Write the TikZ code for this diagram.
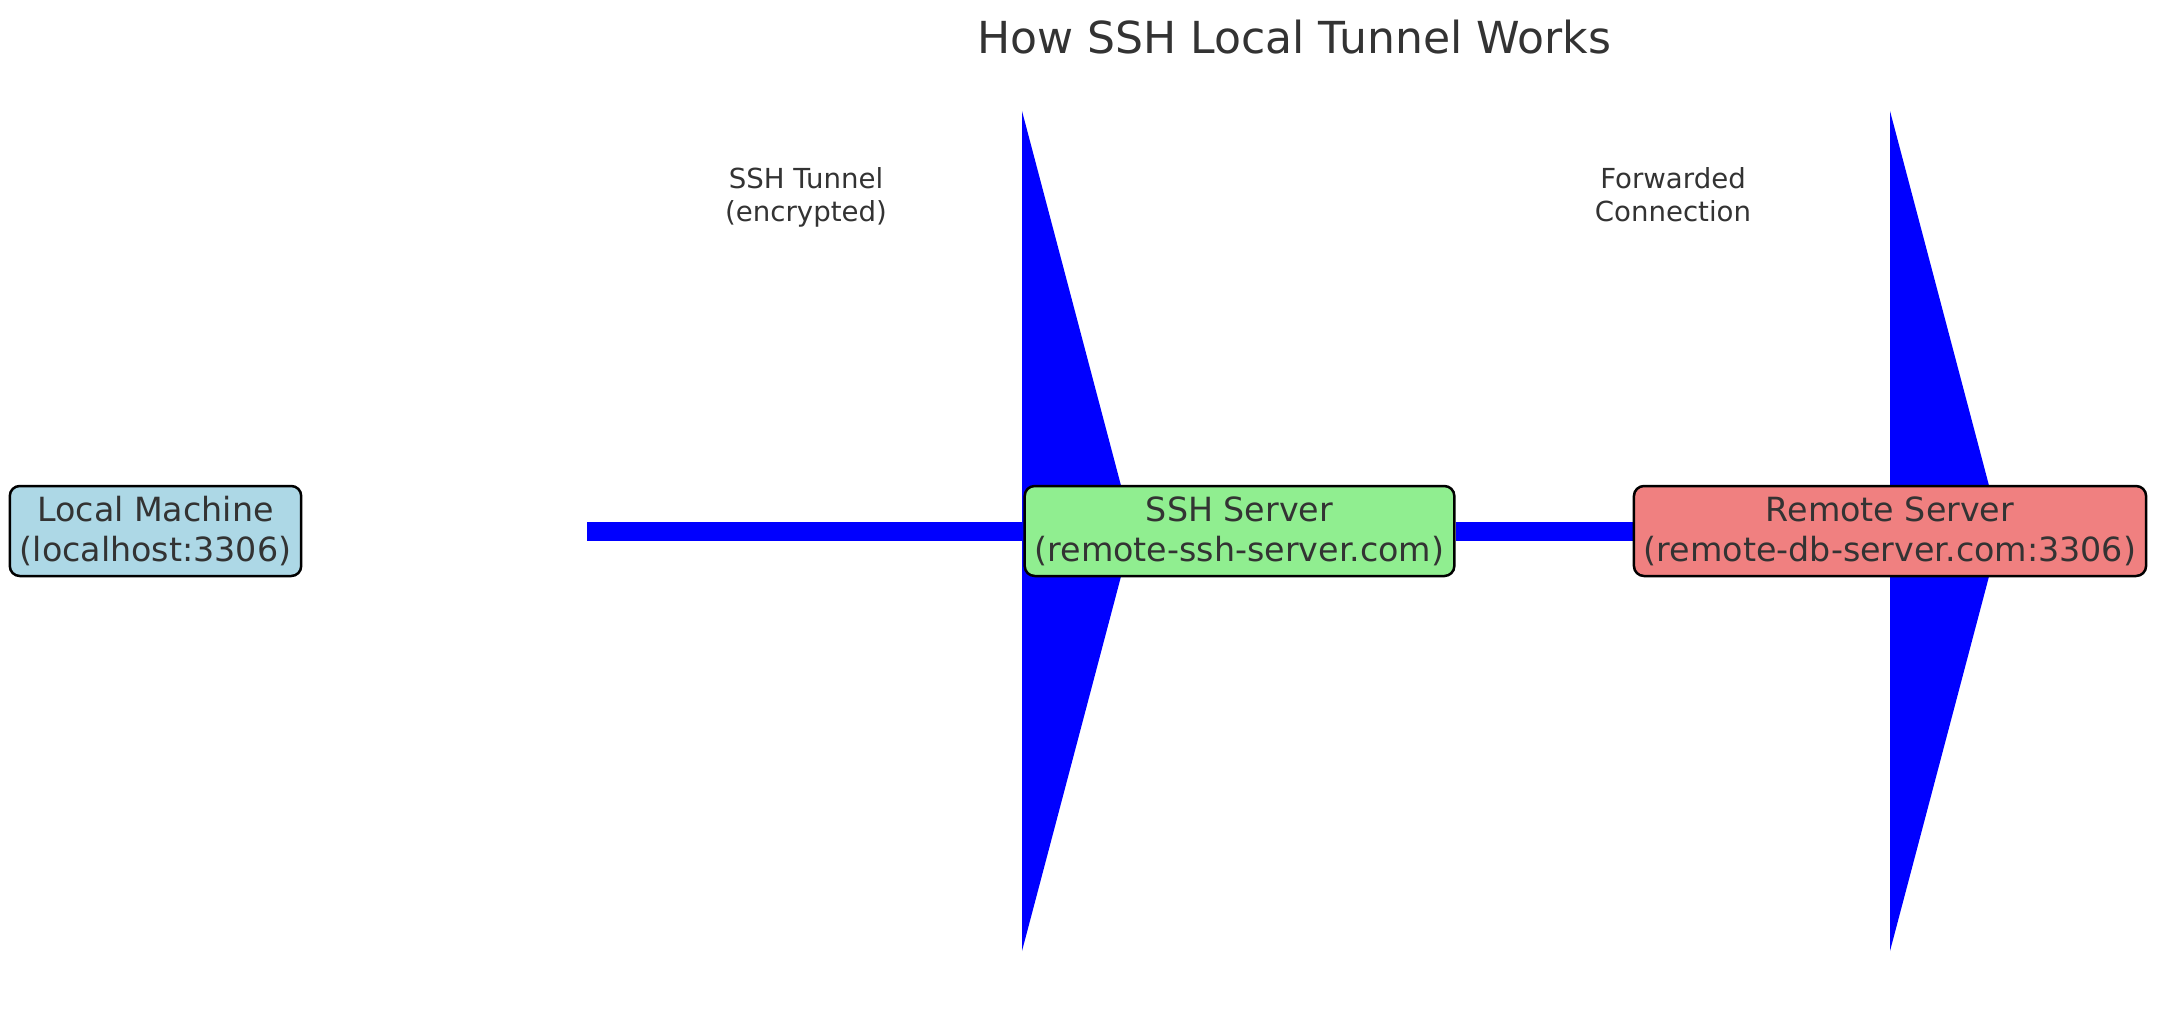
\documentclass[tikz,border=0pt]{standalone}
\usepackage{fontspec}
\setmainfont{DejaVu Sans}
\usepackage{tikz}
\usetikzlibrary{arrows.meta,positioning,backgrounds}
\definecolor{tunnelBlue}{HTML}{0000FF}
\definecolor{textGray}{HTML}{333333}
\definecolor{localFill}{HTML}{ADD8E6}
\definecolor{sshFill}{HTML}{90EE90}
\definecolor{remoteFill}{HTML}{F08080}
\newcommand\titlefont{\fontsize{44.1}{52.9}\selectfont}
\newcommand\boxfont{\fontsize{33.3}{40}\selectfont}
\newcommand\labelfont{\fontsize{27.6}{33.1}\selectfont}
\tikzset{
  hostbox/.style={rectangle, rounded corners=10pt, draw=black, line width=2.5pt, text=textGray, align=center, inner xsep=10pt, inner ysep=10pt, minimum height=90pt, font=\boxfont},
  pipe/.style={draw=tunnelBlue, line width=19pt, -{Triangle[length=111pt, width=840pt, line width=0pt, fill=tunnelBlue]}},
  pipelabel/.style={text=textGray, align=center, inner sep=0pt, anchor=north, font=\labelfont}
}
\begin{document}
\begin{tikzpicture}[x=1pt, y=-1pt]
  \useasboundingbox (0,0) rectangle (2157,1014);
  \node[anchor=base, text=textGray, font=\titlefont] (title) at (1294,54) {How SSH Local Tunnel Works};
  \node[hostbox, fill=localFill] (local) at (155.5,531) {Local Machine\\(localhost:3306)};
  \node[hostbox, fill=sshFill] (ssh) at (1239.5,531) {SSH Server\\(remote-ssh-server.com)};
  \node[hostbox, fill=remoteFill] (remote) at (1890,531) {Remote Server\\(remote-db-server.com:3306)};
  \coordinate (tunstart) at (587,531);
  \coordinate (tuntip) at (1133,531);
  \coordinate (fwdtip) at (2001,531);
  \node[pipelabel] (tunlabel) at (806,167) {SSH Tunnel\\(encrypted)};
  \node[pipelabel] (fwdlabel) at (1673,167) {Forwarded\\Connection};

  \begin{scope}[on background layer]
    \draw[pipe] (tunstart) -- (tuntip);
    \draw[pipe] (ssh.east) -- (fwdtip);
  \end{scope}
\end{tikzpicture}
\end{document}
